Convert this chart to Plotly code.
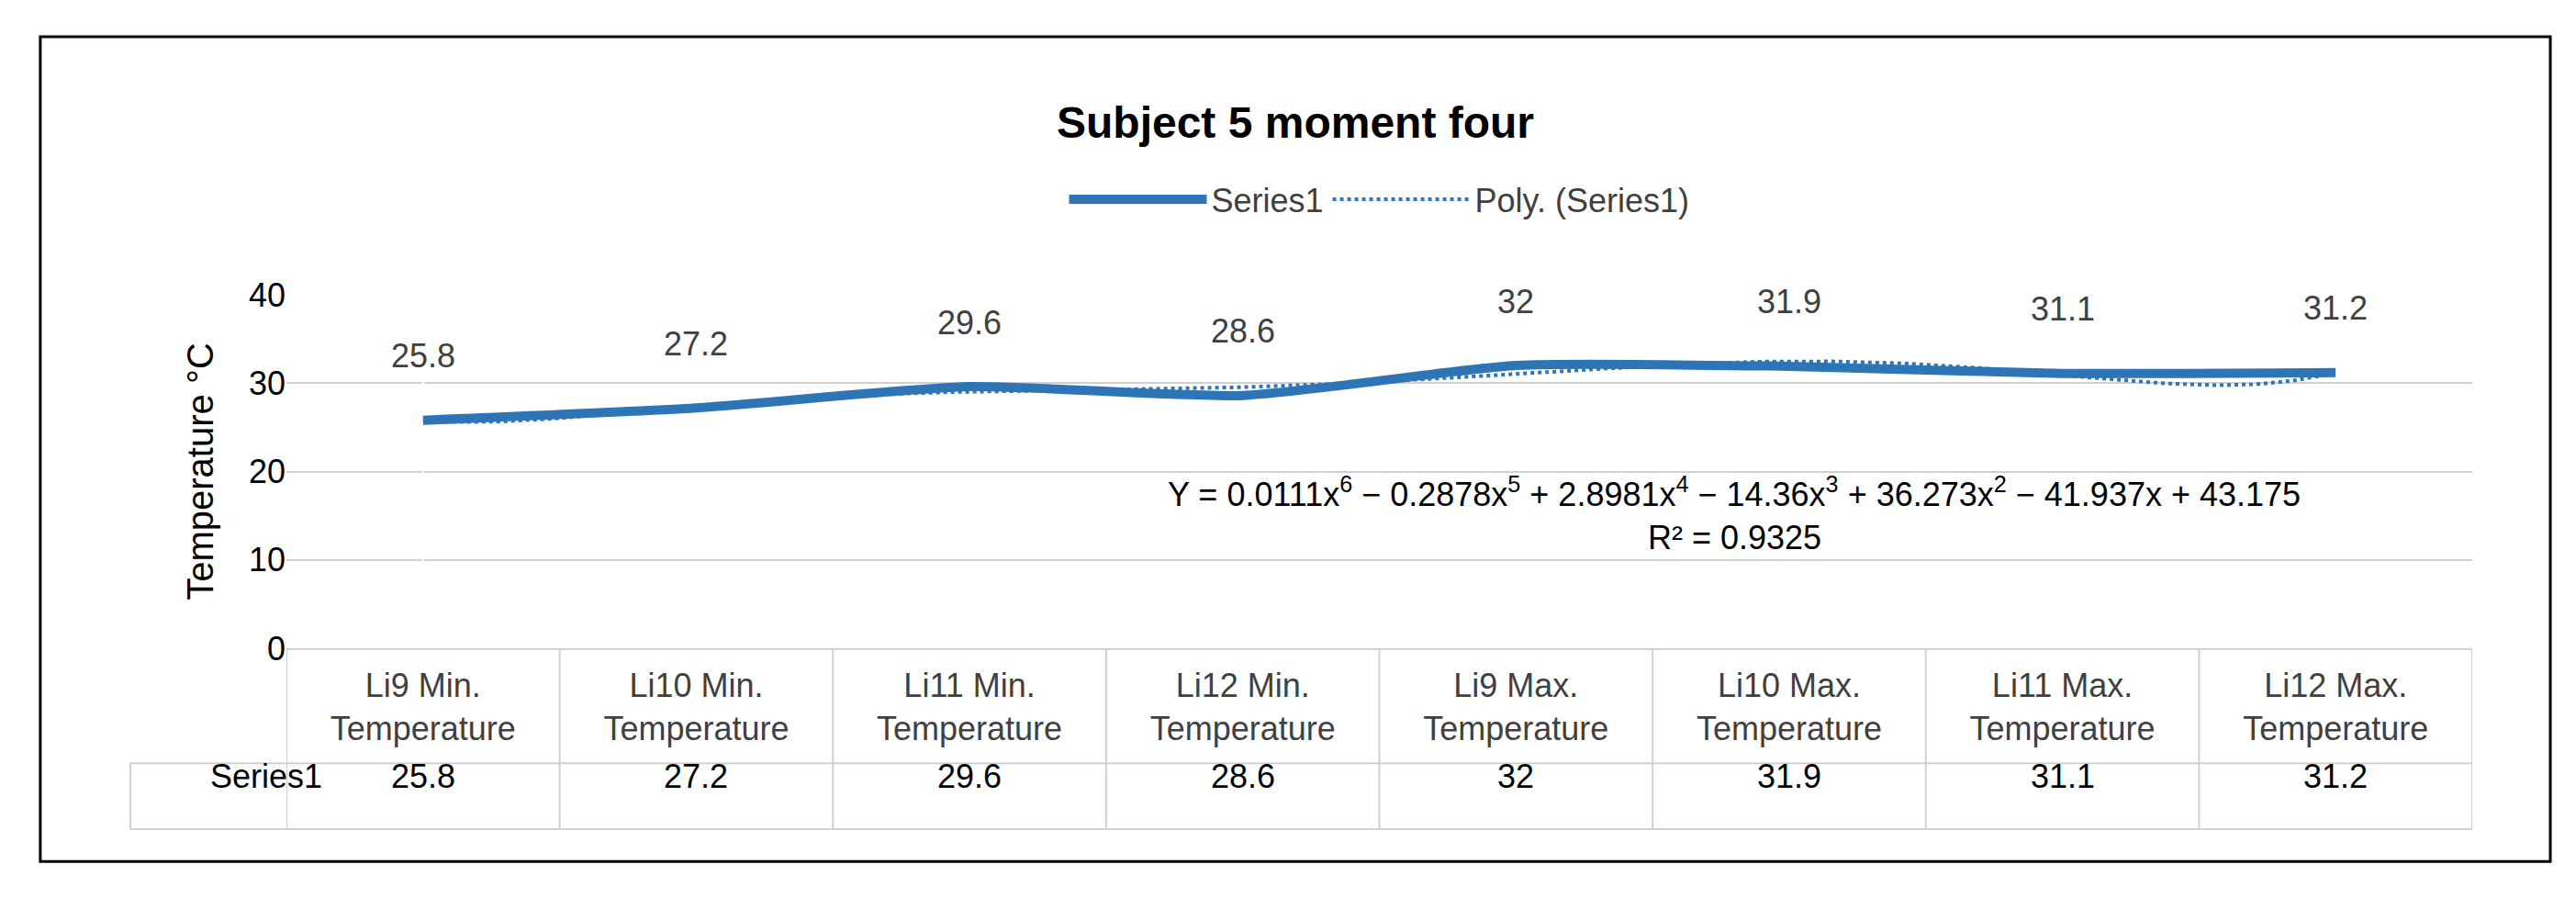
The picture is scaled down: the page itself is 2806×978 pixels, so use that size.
import numpy as np
import plotly.graph_objects as go

categories = ["Li9 Min.<br>Temperature", "Li10 Min.<br>Temperature", "Li11 Min.<br>Temperature",
              "Li12 Min.<br>Temperature", "Li9 Max.<br>Temperature", "Li10 Max.<br>Temperature",
              "Li11 Max.<br>Temperature", "Li12 Max.<br>Temperature"]
values = [25.8, 27.2, 29.6, 28.6, 32, 31.9, 31.1, 31.2]
yticks = [0, 10, 20, 30, 40]

n = len(values)
xs = np.arange(n)
coef = np.polyfit(xs + 1, values, 6)
xf = np.linspace(0, n - 1, 300)
yf = np.polyval(coef, xf + 1)

C = "#2E75B6"
F = "Liberation Sans"
FS = 36
fig = go.Figure()
fig.add_trace(go.Scatter(x=list(xs), y=values, mode="lines", name="Series1",
                         line=dict(color=C, width=10, shape="spline", smoothing=0.6)))
fig.add_trace(go.Scatter(x=xf, y=yf, mode="lines", name="Poly. (Series1)",
                         line=dict(color=C, width=4, dash="dot")))

for i, v in enumerate(values):
    fig.add_annotation(x=i, y=v, text=f"{v:g}", showarrow=False, yshift=70,
                       bgcolor="white", font=dict(size=FS, color="#404040", family=F))
    fig.add_annotation(x=i, y=-0.42, yref="paper", text=f"{v:g}", showarrow=False,
                       font=dict(size=FS, color="black", family=F))
fig.add_annotation(x=-0.0357, xref="paper", y=-0.42, yref="paper", text="Series1", showarrow=False,
                   font=dict(size=FS, color="black", family=F))
fig.add_annotation(x=4.8, y=17.7, text="Y = 0.0111x<sup>6</sup> − 0.2878x<sup>5</sup> + 2.8981x<sup>4</sup> − 14.36x<sup>3</sup> + 36.273x<sup>2</sup> − 41.937x + 43.175",
                   showarrow=False, font=dict(size=FS, color="black", family=F))
fig.add_annotation(x=4.8, y=12.5, text="R² = 0.9325", showarrow=False,
                   font=dict(size=FS, color="black", family=F))

lc = "#D0D0D0"
for k in range(n + 1):
    fig.add_shape(type="line", xref="x", yref="paper", x0=k - 0.5, x1=k - 0.5, y0=0, y1=-0.512,
                  line=dict(color=lc, width=2))
fig.add_shape(type="line", xref="paper", yref="paper", x0=-0.0714, x1=-0.0714, y0=-0.325, y1=-0.512,
              line=dict(color=lc, width=2))
for yy in [-0.325, -0.512]:
    fig.add_shape(type="line", xref="paper", yref="paper", x0=-0.0714, x1=1, y0=yy, y1=yy,
                  line=dict(color=lc, width=2))
fig.add_shape(type="rect", xref="paper", yref="paper", x0=-0.1126, x1=1.0357, y0=-0.603, y1=1.73,
              line=dict(color="black", width=3))

fig.update_layout(
    width=2806, height=978, plot_bgcolor="white", paper_bgcolor="white",
    margin=dict(l=304, r=121, t=313, b=280),
    title=dict(text="<b>Subject 5 moment four</b>", x=0.5, xanchor="center", y=0.872, yanchor="middle",
               font=dict(size=48, color="black", family=F)),
    legend=dict(orientation="h", x=0.5, xanchor="center", y=1.27, yanchor="middle",
                font=dict(size=FS, color="#404040", family=F), itemwidth=150),
    xaxis=dict(range=[-0.5, n - 0.5], tickvals=list(xs), ticktext=categories, showgrid=False,
               showline=True, linecolor=lc, linewidth=2, ticks="", ticklabelstandoff=8,
               tickfont=dict(size=FS, color="#404040", family=F)),
    yaxis=dict(range=[0, 40], tickvals=yticks, gridcolor=lc, gridwidth=2, zeroline=False,
               title=dict(text="Temperature °C", font=dict(size=40, color="black", family=F), standoff=25),
               tickfont=dict(size=FS, color="black", family=F)),
)
fig.write_html("out.html")
